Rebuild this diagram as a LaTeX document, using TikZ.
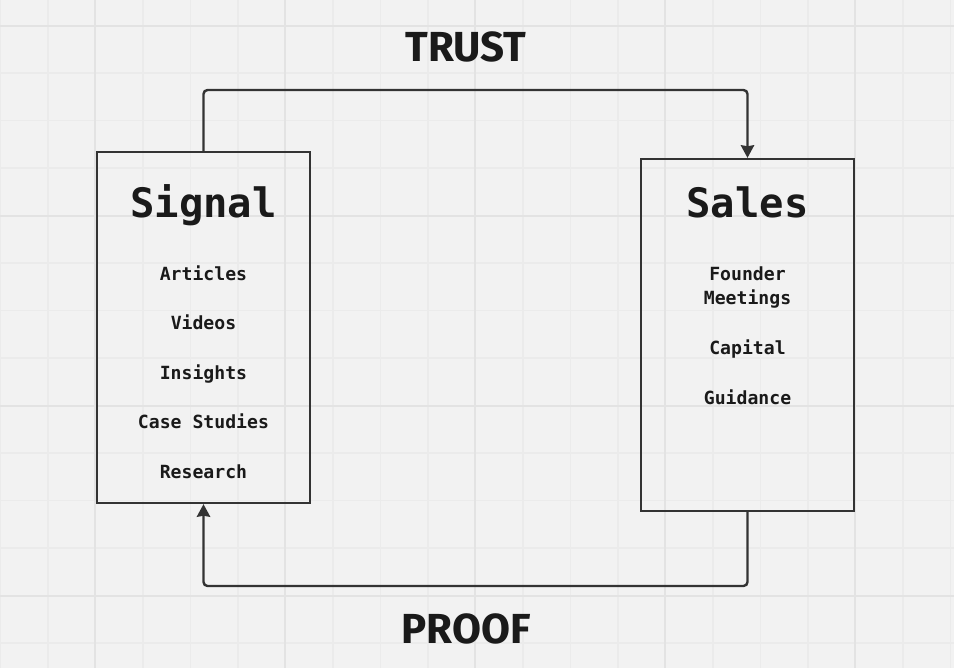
\documentclass[tikz,border=0pt]{standalone}
\usepackage{fontspec}
\setmonofont{DejaVu Sans Mono}
\newfontfamily\labelfont{Fira Sans}
\usetikzlibrary{arrows.meta}
\definecolor{bgc}{HTML}{F2F2F2}
\definecolor{minorc}{HTML}{EBEBEB}
\definecolor{majorc}{HTML}{E3E3E3}
\definecolor{linec}{HTML}{333333}
\definecolor{textc}{HTML}{1A1A1A}
\tikzset{
  panel/.style={draw=linec, line width=1.7pt, fill=none},
  title/.style={anchor=base, text=textc, font=\fontsize{30.4}{36}\selectfont\ttfamily\bfseries, inner sep=0pt},
  item/.style={anchor=base, text=textc, font=\fontsize{13.6}{16}\selectfont\ttfamily\bfseries, inner sep=0pt},
  looplabel/.style={anchor=base, text=textc, font=\fontsize{31.5}{36}\selectfont\labelfont\bfseries, inner sep=0pt},
  flow/.style={draw=linec, line width=1.8pt, rounded corners=3pt, -{Stealth[length=9.5pt,width=10pt,inset=0.8pt]}},
}
\begin{document}
\begin{tikzpicture}[x=0.75pt,y=-0.75pt]
\useasboundingbox (0,0) rectangle (954,668);
\fill[bgc] (0,0) rectangle (954,668);
% minor grid
\foreach \k in {0,...,20} {
  \draw[minorc, line width=1pt] ({0.5+47.5*\k},0) -- ({0.5+47.5*\k},668);
}
\foreach \k in {0,...,13} {
  \draw[minorc, line width=1pt] (0,{25.5+47.5*\k}) -- (954,{25.5+47.5*\k});
}
% major grid
\foreach \xx in {95,285,475,665,855} {
  \draw[majorc, line width=1.5pt] (\xx,0) -- (\xx,668);
}
\foreach \yy in {25.5,215.5,405.5,595.5} {
  \draw[majorc, line width=1.5pt] (0,\yy) -- (954,\yy);
}
% boxes
\node[panel, minimum width=213*0.75pt, minimum height=351*0.75pt, inner sep=0pt] (signal) at (203.5,327.5) {};
\node[panel, minimum width=213*0.75pt, minimum height=352*0.75pt, inner sep=0pt] (sales) at (747.5,335) {};
% titles
\node[title] (signalT) at (203.5,217) {Signal};
\node[title] (salesT) at (747.5,217) {Sales};
% signal items
\node[item] (s1) at (203.5,280) {Articles};
\node[item] (s2) at (203.5,329.5) {Videos};
\node[item] (s3) at (203.5,379) {Insights};
\node[item] (s4) at (203.5,428.5) {Case Studies};
\node[item] (s5) at (203.5,478) {Research};
% sales items
\node[item] (r1) at (747.5,280) {Founder};
\node[item] (r2) at (747.5,304.5) {Meetings};
\node[item] (r3) at (747.5,354.5) {Capital};
\node[item] (r4) at (747.5,404) {Guidance};
% loop labels
\node[looplabel] (trust) at (466,61) {TRUST};
\node[looplabel] (proof) at (466,643) {PROOF};
% connectors
\coordinate (tl) at (203.5,90);
\coordinate (tr) at (747.5,90);
\coordinate (bl) at (203.5,586);
\coordinate (br) at (747.5,586);
\draw[flow] (signal.north) -- (tl) -- (tr) -- (sales.north);
\draw[flow] (sales.south) -- (br) -- (bl) -- (signal.south);
\end{tikzpicture}
\end{document}
